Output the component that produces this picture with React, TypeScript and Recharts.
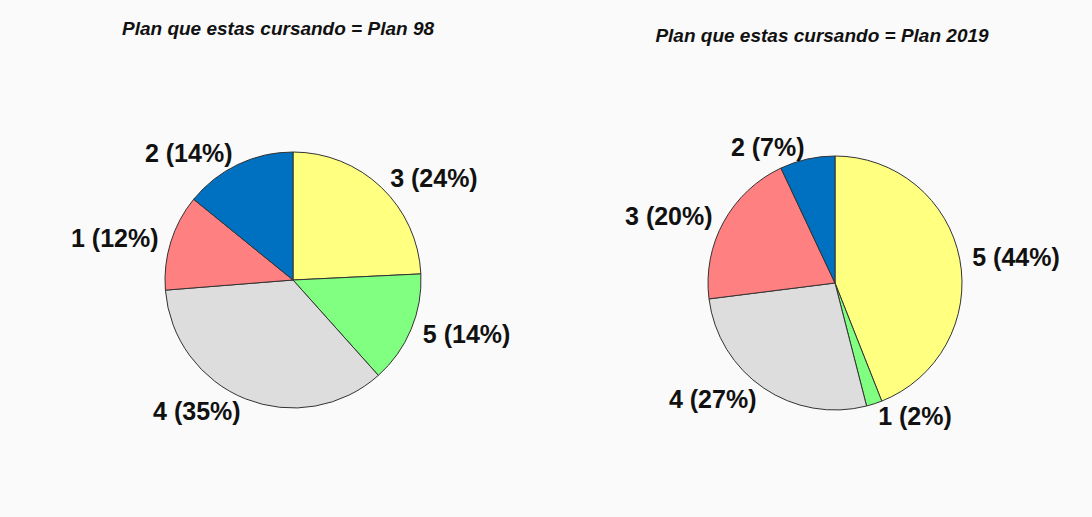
import { PieChart, Pie, Cell } from "recharts"

const LEFT_TITLE = "Plan que estas cursando = Plan 98"
const RIGHT_TITLE = "Plan que estas cursando = Plan 2019"

// slices in clockwise order from 12 o'clock
const PLAN98_NAMES = ["3", "5", "4", "1", "2"]
const PLAN98_VALUES = [24, 14, 35, 12, 14]

const PLAN2019_NAMES = ["5", "1", "4", "3", "2"]
const PLAN2019_VALUES = [44, 2, 27, 20, 7]

// colours go by slice position, not by category
const COLORS = ["#FFFF80", "#80FF80", "#DDDDDD", "#FF8080", "#0070C0"]

const RAD = Math.PI / 180

const plan98 = PLAN98_NAMES.map((name, i) => ({ name, value: PLAN98_VALUES[i] }))
const plan2019 = PLAN2019_NAMES.map((name, i) => ({ name, value: PLAN2019_VALUES[i] }))

function renderLabel(props: any) {
  const { cx, cy, midAngle, outerRadius, name, value } = props
  const r = outerRadius * 1.1
  const x = cx + r * Math.cos(-midAngle * RAD)
  const y = cy + r * Math.sin(-midAngle * RAD)
  return (
    <text
      x={x}
      y={y}
      textAnchor={x > cx ? "start" : "end"}
      dominantBaseline="central"
      fontFamily="'Liberation Sans', Arial, sans-serif"
      fontWeight="bold"
      fontSize={25}
      fill="#111"
    >
      {`${name} (${value}%)`}
    </text>
  )
}

const titleStyle: React.CSSProperties = {
  position: "absolute",
  fontFamily: "'Liberation Sans', Arial, sans-serif",
  fontWeight: "bold",
  fontStyle: "italic",
  fontSize: 19,
  color: "#111",
  transform: "translate(-50%, -50%)",
  whiteSpace: "nowrap",
}

export default function App() {
  return (
    <div
      style={{
        position: "fixed",
        left: 0,
        top: 0,
        width: 1092,
        height: 517,
        background: "#fafafa",
        overflow: "hidden",
      }}
    >
      <div style={{ ...titleStyle, left: 278, top: 29 }}>{LEFT_TITLE}</div>
      <div style={{ ...titleStyle, left: 822, top: 36 }}>{RIGHT_TITLE}</div>
      <PieChart
        width={1092}
        height={517}
        margin={{ top: 0, right: 0, bottom: 0, left: 0 }}
        style={{ position: "absolute", left: 0, top: 0 }}
      >
        <Pie
          data={plan98}
          dataKey="value"
          nameKey="name"
          cx={293}
          cy={280}
          outerRadius={128}
          startAngle={90}
          endAngle={-270}
          stroke="#333"
          strokeWidth={1}
          label={renderLabel}
          labelLine={false}
          isAnimationActive={false}
        >
          {plan98.map((d, i) => (
            <Cell key={d.name} fill={COLORS[i]} />
          ))}
        </Pie>
        <Pie
          data={plan2019}
          dataKey="value"
          nameKey="name"
          cx={835}
          cy={283}
          outerRadius={127}
          startAngle={90}
          endAngle={-270}
          stroke="#333"
          strokeWidth={1}
          label={renderLabel}
          labelLine={false}
          isAnimationActive={false}
        >
          {plan2019.map((d, i) => (
            <Cell key={d.name} fill={COLORS[i]} />
          ))}
        </Pie>
      </PieChart>
    </div>
  )
}
